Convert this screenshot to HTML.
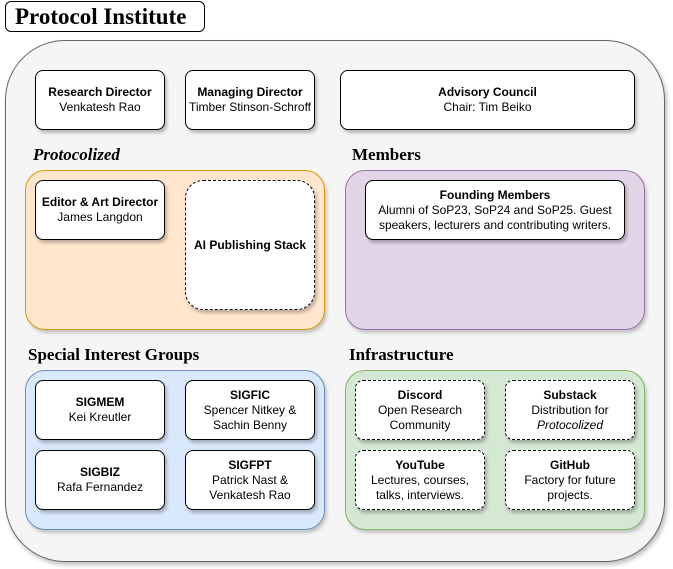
<!DOCTYPE html>
<html><head><meta charset="utf-8"><style>
*{box-sizing:border-box;margin:0;padding:0}
body{width:673px;height:569px;background:#fff;position:relative;overflow:hidden;font-family:"Liberation Sans",Arial,sans-serif}
div{position:absolute}
.b{background:#fff;border:1px solid #000;border-radius:8px;box-shadow:2px 3px 3px rgba(0,0,0,0.25);display:flex;flex-direction:column;align-items:center;justify-content:center;text-align:center;font-size:12px;line-height:15px;color:#000}
.d{border-style:dashed}
.b b{font-weight:bold}
.h{font-family:"Liberation Serif",serif;font-weight:bold;font-size:17px;color:#000}
.g{border-radius:20px;box-shadow:2px 3px 3px rgba(0,0,0,0.2)}
</style></head><body>
<div style="left:5px;top:1px;width:200px;height:31px;border:1px solid #000;border-radius:6px;font-family:'Liberation Serif',serif;font-weight:bold;font-size:23px;line-height:29px;padding-left:9px">Protocol Institute</div>
<div style="left:5px;top:40px;width:660px;height:522px;background:#f5f5f5;border:1px solid #666;border-radius:60px;box-shadow:2px 3px 4px rgba(0,0,0,0.25)"></div>

<div class="b" style="left:35px;top:70px;width:130px;height:60px"><b>Research Director</b>Venkatesh Rao</div>
<div class="b" style="left:185px;top:70px;width:130px;height:60px"><b>Managing Director</b>Timber Stinson-Schroff</div>
<div class="b" style="left:340px;top:70px;width:295px;height:60px"><b>Advisory Council</b>Chair: Tim Beiko</div>

<div class="h" style="left:33px;top:145px;font-style:italic">Protocolized</div>
<div class="g" style="left:25px;top:170px;width:300px;height:160px;background:#ffe6cc;border:1px solid #d79b00"></div>
<div class="b" style="left:35px;top:180px;width:130px;height:60px"><b>Editor &amp; Art Director</b>James Langdon</div>
<div class="b d" style="left:185px;top:180px;width:130px;height:130px;border-radius:18px"><b>AI Publishing Stack</b></div>

<div class="h" style="left:352px;top:145px">Members</div>
<div class="g" style="left:345px;top:170px;width:300px;height:160px;background:#e1d5e7;border:1px solid #9673a6"></div>
<div class="b" style="left:365px;top:180px;width:260px;height:60px"><b>Founding Members</b>Alumni of SoP23, SoP24 and SoP25. Guest speakers, lecturers and contributing writers.</div>

<div class="h" style="left:28px;top:345px">Special Interest Groups</div>
<div class="g" style="left:25px;top:370px;width:300px;height:160px;background:#dae8fc;border:1px solid #6c8ebf"></div>
<div class="b" style="left:35px;top:380px;width:130px;height:60px"><b>SIGMEM</b>Kei Kreutler</div>
<div class="b" style="left:185px;top:380px;width:130px;height:60px"><b>SIGFIC</b>Spencer Nitkey &amp;<br>Sachin Benny</div>
<div class="b" style="left:35px;top:450px;width:130px;height:60px"><b>SIGBIZ</b>Rafa Fernandez</div>
<div class="b" style="left:185px;top:450px;width:130px;height:60px"><b>SIGFPT</b>Patrick Nast &amp;<br>Venkatesh Rao</div>

<div class="h" style="left:349px;top:345px">Infrastructure</div>
<div class="g" style="left:345px;top:370px;width:300px;height:160px;background:#d5e8d4;border:1px solid #82b366"></div>
<div class="b d" style="left:355px;top:380px;width:130px;height:60px"><b>Discord</b>Open Research<br>Community</div>
<div class="b d" style="left:505px;top:380px;width:130px;height:60px"><b>Substack</b>Distribution for<br><i>Protocolized</i></div>
<div class="b d" style="left:355px;top:450px;width:130px;height:60px"><b>YouTube</b>Lectures, courses,<br>talks, interviews.</div>
<div class="b d" style="left:505px;top:450px;width:130px;height:60px"><b>GitHub</b>Factory for future<br>projects.</div>
</body></html>
